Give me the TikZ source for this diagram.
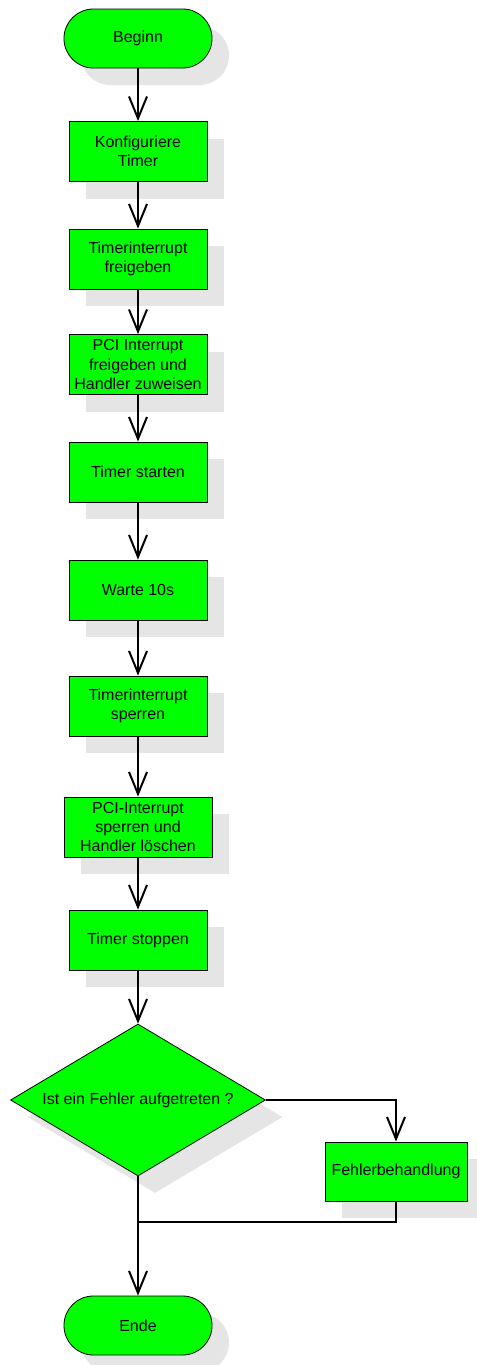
\documentclass[tikz,border=0pt]{standalone}
\usepackage{fontspec}
\setmainfont{Liberation Sans}
\usetikzlibrary{shapes.geometric, shadows, arrows.meta, positioning}

\begin{document}
\begin{tikzpicture}[
    x = 0.75pt, y = -0.75pt,
    every node/.style = {
      font = \fontsize{12}{14.6}\selectfont,
      align = center,
    },
    boxshadow/.style = {
      general shadow = {
        fill = black!10,
        shadow xshift = 12.75pt,
        shadow yshift = -12.75pt,
      }
    },
    terminal/.style = {
      draw,
      fill = green,
      rectangle,
      rounded corners = 22pt,
      line width = 0.6pt,
      minimum width = 111pt,
      minimum height = 44.25pt,
      boxshadow,
    },
    stepbox/.style = {
      draw,
      fill = green,
      rectangle,
      line width = 0.6pt,
      inner sep = 1pt,
      minimum width = 103.5pt,
      minimum height = 45pt,
      boxshadow,
    },
    decision/.style = {
      draw,
      fill = green,
      diamond,
      aspect = 1.68,
      line width = 0.6pt,
      inner sep = 0pt,
      minimum width = 191.25pt,
      minimum height = 114pt,
      boxshadow,
    },
    flow/.style = {
      line width = 1.5pt,
      -{Straight Barb[length = 16.5pt, width = 13.5pt]},
    },
  ]
        \useasboundingbox (0, 0) rectangle (477, 1365);

        \node [terminal] (start)   at (138, 38.5)  {Beginn};
        \node [stepbox]  (config)  at (138, 151.5) {Konfiguriere\\Timer};
        \node [stepbox]  (enirq)   at (138, 259)   {Timerinterrupt\\freigeben};
        \node [stepbox]  (enpci)   at (138, 364.5) {PCI Interrupt\\freigeben und\\Handler zuweisen};
        \node [stepbox]  (run)     at (138, 472)   {Timer starten};
        \node [stepbox]  (wait)    at (138, 590)   {Warte 10s};
        \node [stepbox]  (disirq)  at (138, 706)   {Timerinterrupt\\sperren};
        \node [stepbox, minimum width = 111pt] (dispci) at (138, 827)
          {PCI-Interrupt\\sperren und\\Handler l\"oschen};
        \node [stepbox]  (halt)    at (138, 940)   {Timer stoppen};

        \node [decision] (check)   at (138, 1100)  {Ist ein Fehler aufgetreten ?};
        \node [stepbox, minimum width = 106.5pt, minimum height = 44.25pt] (error)
          at (396, 1171.5) {Fehlerbehandlung};

        \node [terminal] (finish)  at (138, 1325.5) {Ende};

        \coordinate (merge) at (138, 1222);

        \draw [flow] (start)  to (config);
        \draw [flow] (config) to (enirq);
        \draw [flow] (enirq)  to (enpci);
        \draw [flow] (enpci)  to (run);
        \draw [flow] (run)    to (wait);
        \draw [flow] (wait)   to (disirq);
        \draw [flow] (disirq) to (dispci);
        \draw [flow] (dispci) to (halt);
        \draw [flow] (halt)   to (check);

        \draw [flow] (check.east) -| (error);
        \draw [line width = 1.5pt] (error) |- (merge);
        \draw [flow] (check) to (finish);
      \end{tikzpicture}
\end{document}
